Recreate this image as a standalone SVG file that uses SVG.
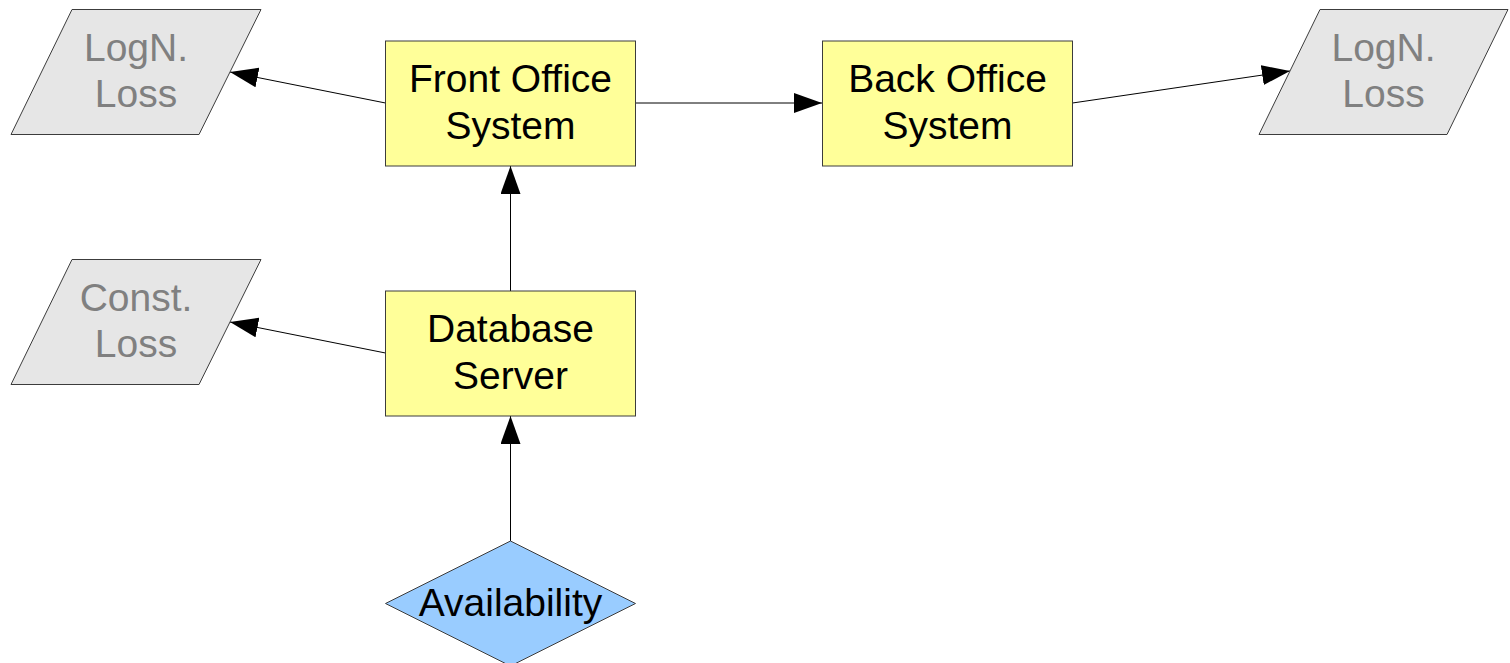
<svg xmlns="http://www.w3.org/2000/svg" width="1510" height="663" viewBox="0 0 1510 663">
<style>
.box{fill:#ffff99;stroke:#3c3c3c;stroke-width:1}
.para{fill:#e6e6e6;stroke:#3c3c3c;stroke-width:1}
.dia{fill:#99ccff;stroke:#3c3c3c;stroke-width:1}
.t{font-family:"Liberation Sans",Arial,sans-serif;font-size:39px;text-anchor:middle;fill:#000}
.g{fill:#808080}
.c{stroke:#000;stroke-width:1;fill:none;marker-end:url(#ah)}
</style>
<defs>
<marker id="ah" viewBox="0 0 28 20" refX="28" refY="10" markerWidth="28" markerHeight="20" markerUnits="userSpaceOnUse" orient="auto">
<path d="M0,0 L28,10 L0,20 Z" fill="#000"/>
</marker>
</defs>
<g id="connectors">
<line class="c" x1="385.5" y1="103" x2="230" y2="72"/>
<line class="c" x1="635.5" y1="103" x2="822" y2="103"/>
<line class="c" x1="1072.5" y1="103" x2="1290" y2="71"/>
<line class="c" x1="385.5" y1="353" x2="230" y2="322"/>
<line class="c" x1="510.5" y1="291" x2="510.5" y2="166"/>
<line class="c" x1="510.5" y1="541" x2="510.5" y2="416"/>
</g>
<g id="logn-left">
<polygon class="para" points="72,9.5 261,9.5 199,134.5 11,134.5"/>
<text class="t g" x="136" y="61">LogN.</text>
<text class="t g" x="136" y="107">Loss</text>
</g>
<g id="front-office">
<rect class="box" x="385.5" y="41" width="250" height="125"/>
<text class="t" x="510.5" y="92">Front Office</text>
<text class="t" x="510.5" y="139">System</text>
</g>
<g id="back-office">
<rect class="box" x="822.5" y="41" width="250" height="125"/>
<text class="t" x="947.5" y="92">Back Office</text>
<text class="t" x="947.5" y="139">System</text>
</g>
<g id="logn-right">
<polygon class="para" points="1320,9.5 1508,9.5 1447,134.5 1259,134.5"/>
<text class="t g" x="1383.5" y="61">LogN.</text>
<text class="t g" x="1383.5" y="107">Loss</text>
</g>
<g id="const-loss">
<polygon class="para" points="72,259.5 261,259.5 199,384.5 11,384.5"/>
<text class="t g" x="136" y="311">Const.</text>
<text class="t g" x="136" y="357">Loss</text>
</g>
<g id="database-server">
<rect class="box" x="385.5" y="291" width="250" height="125"/>
<text class="t" x="510.5" y="342">Database</text>
<text class="t" x="510.5" y="389">Server</text>
</g>
<g id="availability">
<polygon class="dia" points="510.5,541 635.5,603.5 510.5,666 385.5,603.5"/>
<text class="t" x="510.5" y="616">Availability</text>
</g>
</svg>
